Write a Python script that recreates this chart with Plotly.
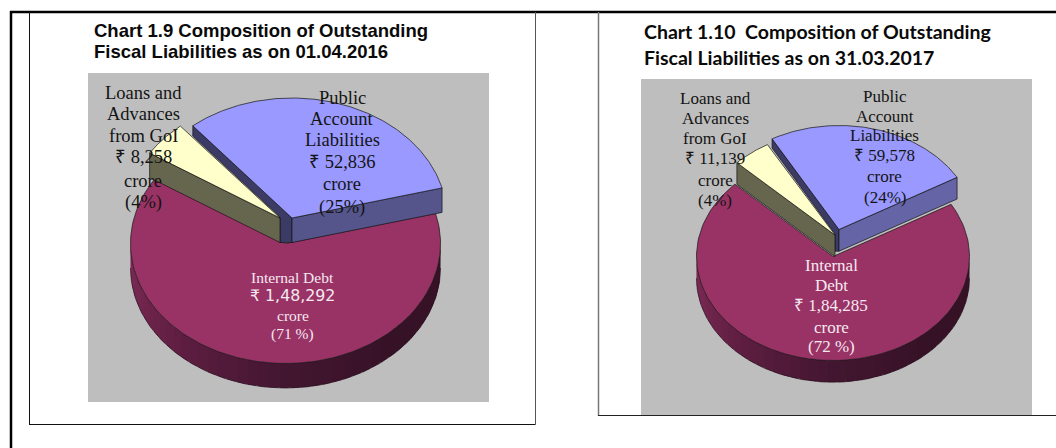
import numpy as np
import plotly.graph_objects as go

# ---- data ----
categories = ["Public Account Liabilities", "Loans and Advances from GoI", "Internal Debt"]
values_2016 = [52836, 8258, 148292]
values_2017 = [59578, 11139, 184285]
amounts_2016 = ["₹ 52,836", "₹ 8,258", "₹ 1,48,292"]
amounts_2017 = ["₹ 59,578", "₹ 11,139", "₹ 1,84,285"]
percents_2016 = ["(25%)", "(4%)", "(71 %)"]
percents_2017 = ["(24%)", "(4%)", "(72 %)"]
name_lines_2016 = [["Public", "Account", "Liabilities"], ["Loans and", "Advances", "from GoI"], ["Internal Debt"]]
name_lines_2017 = [["Public", "Account", "Liabilities"], ["Loans and", "Advances", "from GoI"], ["Internal", "Debt"]]
title_2016 = ["Chart 1.9 Composition of Outstanding", "Fiscal Liabilities as on 01.04.2016"]
title_2017 = ["Chart 1.10  Composition of Outstanding", "Fiscal Liabilities as on 31.03.2017"]

# ---- styles and layout ----
W, H = 1056, 448
TOP = ["#9999ff", "#ffffcc", "#993366"]
CUT = ["#3b3b66", "#66664e", None]
INK = "#141414"
LEFT = dict(cx=285.5, cy=243.5, rx=155, ry=120, depth=24.5, start=29.6, warp=1.33,
            off=[(6.5, -25.5), (-5.5, -25.5), (0, 0)], front="#55558c",
            box=(88, 489, 73, 402))
RIGHT = dict(cx=833, cy=256.5, rx=136.5, ry=104, depth=21.7, start=33.4, warp=1.07,
             off=[(6, -27), (2, -21.5), (0, 0)], front="#6464a6",
             box=(641, 1032, 79, 415))

fig = go.Figure()


def warp(theta, start_m):
    """Perspective distortion of the pie's angles (degrees)."""
    half = np.radians(np.asarray(theta, float) - 90) / 2
    return 90 + 2 * np.degrees(np.arctan2(start_m * np.sin(half), np.cos(half)))


def poly(xs, ys, fill, line=INK, width=0.7, name=None):
    fig.add_trace(go.Scatter(x=list(xs), y=list(ys), mode="lines", fill="toself", fillcolor=fill,
                             line=dict(color=line, width=width), hoverinfo="skip",
                             showlegend=False, name=name))


def mix(t):
    stops = [(0.0, (128, 44, 88)), (0.25, (96, 30, 66)), (0.5, (66, 22, 48)), (0.75, (54, 18, 38)), (1.0, (56, 18, 38))]
    for (a, ca), (b, cb) in zip(stops, stops[1:]):
        if t <= b:
            f = (t - a) / (b - a)
            c = [round(p + (q - p) * f) for p, q in zip(ca, cb)]
            return f"rgb({c[0]},{c[1]},{c[2]})"
    return "rgb(56,18,38)"


def draw_pie(values, g):
    v = np.array(values, float)
    edges = g["start"] + np.concatenate([[0], np.cumsum(v) / v.sum() * 360])
    cx, cy, rx, ry, d = g["cx"], g["cy"], g["rx"], g["ry"], g["depth"]

    def rim(phi, off=(0, 0), drop=0.0):
        r = np.radians(phi)
        return cx + off[0] + rx * np.cos(r), cy + off[1] + drop - ry * np.sin(r)

    def slice_pts(idx):
        phi = warp(np.linspace(edges[idx], edges[idx + 1], 160), g["warp"])
        off = g["off"][idx]
        x, y = rim(phi, off)
        return cx + off[0], cy + off[1], x, y

    # front wall of the big slice, banded to give the shaded rim
    bands = np.linspace(180, 360, 46)
    for i, a in enumerate(bands[:-1]):
        ph = np.linspace(a, min(360, a + 7), 5)
        x, y = rim(ph)
        xb, yb = rim(ph[::-1], drop=d)
        poly(np.r_[x, xb, x[0]], np.r_[y, yb, y[0]], mix(i / 44), line="rgba(0,0,0,0)", width=0)
    ph = np.linspace(180, 360, 120)
    xb, yb = rim(ph, drop=d)
    fig.add_trace(go.Scatter(x=xb, y=yb, mode="lines", line=dict(color="#2a1020", width=0.7),
                             hoverinfo="skip", showlegend=False))

    # big slice top
    ax, ay, x, y = slice_pts(2)
    poly(np.r_[ax, x, ax], np.r_[ay, y, ay], TOP[2], name=categories[2])

    # narrow cut face of the public slice runs behind the loans slice
    px, py, x0, y0 = slice_pts(0)
    lx, ly, xl, yl = slice_pts(1)
    poly([x0[-1], px, px, lx, lx, x0[-1], x0[-1]],
         [y0[-1], py, py + d, py + d, ly - 1, y0[-1] + 0.42 * d, y0[-1]], CUT[0])

    # loans slice
    poly([xl[-1], lx, lx, xl[-1], xl[-1]], [yl[-1], ly, ly + d, yl[-1] + d, yl[-1]], CUT[1])
    poly(np.r_[lx, xl, lx], np.r_[ly, yl, ly], TOP[1], name=categories[1])

    # public slice front face and top
    poly([px, x0[0], x0[0], px, px], [py, y0[0], y0[0] + d, py + d, py], g["front"])
    poly(np.r_[px, x0, px], np.r_[py, y0, py], TOP[0], name=categories[0])


def label(x, y, text, size, color=INK, family="Liberation Serif", weight=None):
    font = dict(size=size, color=color, family=family)
    if weight:
        font["weight"] = weight
    fig.add_annotation(x=x, y=y, text=text, showarrow=False, xref="x", yref="y",
                       font=font, xanchor="center", yanchor="middle")


def lines_at(x, ys, lines, size, color=INK, amount_line=None, amount_font=None, amount_size=None):
    for i, (y, t) in enumerate(zip(ys, lines)):
        if i == amount_line and amount_font:
            label(x, y, t, amount_size, color, amount_font)
        else:
            label(x, y, t, size, color)


# frames and grey plates
def rect(x0, x1, y0, y1, fill=None, line=None, width=1):
    fig.add_shape(type="rect", x0=x0, x1=x1, y0=y0, y1=y1, xref="x", yref="y", layer="below",
                  fillcolor=fill or "rgba(0,0,0,0)", line=dict(color=line or "rgba(0,0,0,0)", width=width if line else 0))


def seg(x0, y0, x1, y1, color, width):
    fig.add_shape(type="line", x0=x0, x1=x1, y0=y0, y1=y1, xref="x", yref="y", layer="below",
                  line=dict(color=color, width=width))


for g in (LEFT, RIGHT):
    b = g["box"]
    rect(b[0], b[1], b[2], b[3], fill="#bebebe")

seg(11, 11, 11, 448, "#000000", 2.5)
seg(10, 12, 1056, 12, "#000000", 2.5)
seg(29.5, 12, 29.5, 424.5, "#111111", 1)
seg(29, 424.5, 535.5, 424.5, "#111111", 1)
seg(535.5, 12, 535.5, 424.5, "#555555", 1)
seg(598.5, 12, 598.5, 415.5, "#777777", 1.5)
seg(598, 415.5, 1056, 415.5, "#222222", 1)

draw_pie(values_2016, LEFT)
draw_pie(values_2017, RIGHT)

# titles
for y, t in zip((30.5, 51.5), title_2016):
    fig.add_annotation(x=92, y=y, text=t, showarrow=False, xanchor="left", yanchor="middle",
                       font=dict(size=18.5, family="Liberation Sans", color="#0a0a0a", weight="bold"))
for y, t in zip((31.5, 57.5), title_2017):
    fig.add_annotation(x=642, y=y, text=t, showarrow=False, xanchor="left", yanchor="middle",
                       font=dict(size=19.5, family="Lato", color="#0a0a0a", weight="bold"))

# slice labels, left chart
lines_at(342, (98, 119, 140, 162, 184, 207),
         name_lines_2016[0] + [amounts_2016[0], "crore", percents_2016[0]], 18.5)
lines_at(143, (93, 114, 136, 157, 181, 202),
         name_lines_2016[1] + [amounts_2016[1], "crore", percents_2016[1]], 18.5)
lines_at(292.5, (277.5, 295.5, 315.5, 334),
         name_lines_2016[2] + [amounts_2016[2], "crore", percents_2016[2]], 15.5, "#f6e8f0",
         amount_line=1, amount_font="DejaVu Sans", amount_size=15.8)

# slice labels, right chart
lines_at(884.5, (96, 116, 135, 155, 176, 197),
         name_lines_2017[0] + [amounts_2017[0], "crore", percents_2017[0]], 17)
lines_at(715, (98, 118, 138, 158, 180, 200),
         name_lines_2017[1] + [amounts_2017[1], "crore", percents_2017[1]], 17)
lines_at(831, (265, 285, 305, 327, 346),
         name_lines_2017[2] + [amounts_2017[2], "crore", percents_2017[2]], 17, "#f6e8f0")

fig.update_xaxes(range=[0, W], visible=False, fixedrange=True)
fig.update_yaxes(range=[H, 0], visible=False, fixedrange=True)
fig.update_layout(width=W, height=H, margin=dict(l=0, r=0, t=0, b=0),
                  paper_bgcolor="#ffffff", plot_bgcolor="#ffffff", showlegend=False)
fig.write_html("out.html", config=dict(displayModeBar=False),
               post_script="document.body.style.margin='0';document.body.style.overflow='hidden';")
